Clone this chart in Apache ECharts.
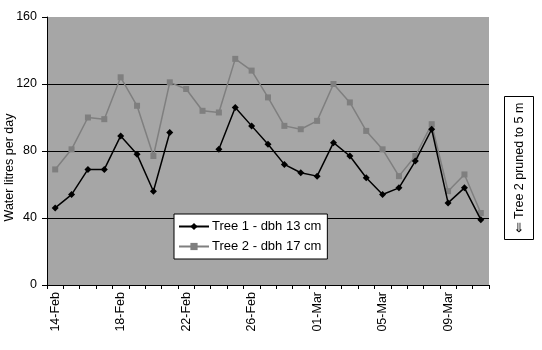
<!DOCTYPE html>
<html>
<head>
<meta charset="utf-8">
<script src="https://cdn.jsdelivr.net/npm/echarts@6/dist/echarts.min.js"></script>
<style>
  html, body { margin: 0; padding: 0; background: #ffffff; }
  #chart { width: 542px; height: 350px; }
</style>
</head>
<body>
<div id="chart"></div>
<script>
// Daily dates (leap-year February into March)
const dates = [
  '14-Feb', '15-Feb', '16-Feb', '17-Feb', '18-Feb', '19-Feb', '20-Feb', '21-Feb',
  '22-Feb', '23-Feb', '24-Feb', '25-Feb', '26-Feb', '27-Feb', '28-Feb', '29-Feb',
  '01-Mar', '02-Mar', '03-Mar', '04-Mar', '05-Mar', '06-Mar', '07-Mar', '08-Mar',
  '09-Mar', '10-Mar', '11-Mar'
];

// Water use, litres per day
const tree1 = [46, 54, 69, 69, 89, 78, 56, 91, null, null, 81, 106, 95, 84, 72, 67,
  65, 85, 77, 64, 54, 58, 74, 93, 49, 58, 39];
const tree2 = [69, 81, 100, 99, 124, 107, 77, 121, 117, 104, 103, 135, 128, 112, 95, 93,
  98, 120, 109, 92, 81, 65, 77, 96, 56, 66, 43];

const yTicks = [0, 40, 80, 120, 160];

const seriesNames = ['Tree 1 - dbh 13 cm', 'Tree 2 - dbh 17 cm'];
const yTitle = 'Water litres per day';
const noteText = '\u21D0 Tree 2 pruned to 5 m';

const font = 'Liberation Sans, Arial, sans-serif';
const plotBg = '#a6a6a6';

const chart = echarts.init(document.getElementById('chart'), null, { renderer: 'canvas' });

chart.setOption({
  animation: false,
  backgroundColor: '#ffffff',
  textStyle: { fontFamily: font },
  grid: {
    left: 47, right: 53, top: 17, bottom: 65,
    containLabel: false,
    outerBoundsMode: 'none',
    show: true, backgroundColor: plotBg, borderWidth: 0
  },
  legend: {
    orient: 'vertical',
    left: 174, top: 214,
    width: 153,
    padding: [6, 6, 6, 4],
    itemGap: 7,
    itemWidth: 30, itemHeight: 9,
    backgroundColor: '#ffffff',
    borderColor: '#000000',
    borderWidth: 1,
    borderRadius: 0,
    textStyle: { fontSize: 13, color: '#000000', fontFamily: font, padding: [0, 0, 0, -2] },
    data: seriesNames
  },
  xAxis: {
    type: 'category',
    data: dates,
    boundaryGap: true,
    axisLine: { lineStyle: { color: '#000000', width: 1 } },
    axisTick: { show: true, interval: 0, length: 4, lineStyle: { color: '#000000' } },
    axisLabel: {
      interval: 3, rotate: 90, color: '#000000', fontSize: 12.5, margin: 7,
      fontFamily: font
    },
    splitLine: { show: false }
  },
  yAxis: {
    type: 'value',
    min: yTicks[0], max: yTicks[yTicks.length - 1], interval: 40,
    axisLine: { show: true, lineStyle: { color: '#000000', width: 1 } },
    axisTick: { show: true, length: 5, lineStyle: { color: '#000000' } },
    axisLabel: { color: '#000000', fontSize: 12.5, margin: 10, fontFamily: font },
    splitLine: {
      show: true,
      // gridlines in black; the top edge of the plot stays unlined
      lineStyle: { color: ['#000000', '#000000', '#000000', '#000000', plotBg], width: 1 }
    }
  },
  series: [
    {
      name: seriesNames[1],
      type: 'line',
      data: tree2,
      symbol: 'rect',
      symbolSize: 6,
      connectNulls: false,
      lineStyle: { color: '#7f7f7f', width: 1.5 },
      itemStyle: { color: '#7f7f7f' },
      z: 2
    },
    {
      name: seriesNames[0],
      type: 'line',
      data: tree1,
      symbol: 'diamond',
      symbolSize: 7,
      connectNulls: false,
      lineStyle: { color: '#000000', width: 1.5 },
      itemStyle: { color: '#000000' },
      z: 3
    }
  ],
  graphic: [
    {
      // vertical axis title
      type: 'text',
      x: 10, y: 167.5,
      rotation: Math.PI / 2,
      style: {
        text: yTitle,
        fontSize: 12.5,
        fontFamily: font,
        fill: '#000000',
        align: 'center',
        verticalAlign: 'middle'
      }
    },
    {
      // boxed side note
      type: 'group',
      left: 504, top: 96,
      children: [
        {
          type: 'rect',
          shape: { x: 0, y: 0, width: 29, height: 143 },
          style: { fill: '#ffffff', stroke: '#000000', lineWidth: 1 }
        },
        {
          type: 'text',
          x: 15, y: 71.5,
          rotation: Math.PI / 2,
          style: {
            text: noteText,
            fontSize: 12.5,
            fontFamily: font,
            fill: '#000000',
            align: 'center',
            verticalAlign: 'middle'
          }
        }
      ]
    }
  ]
});
</script>
</body>
</html>
